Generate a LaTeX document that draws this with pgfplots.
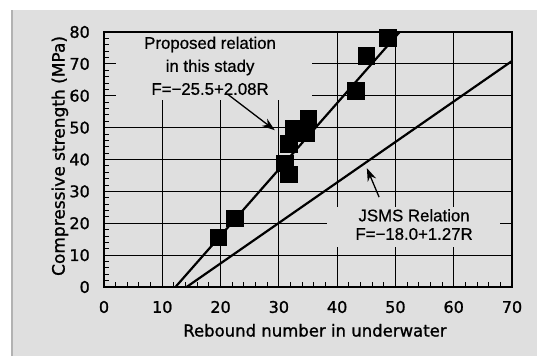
\documentclass[border=0pt]{standalone}
\usepackage{pgfplots}
\pgfplotsset{compat=1.18}
\usetikzlibrary{arrows.meta}
\usepackage{fontspec}
\setmainfont{DejaVu Sans}
\newfontfamily\heavy{DejaVu Sans}[FakeBold=1.2]
\newfontfamily\annfont{Liberation Sans}[FakeBold=0.7]
\definecolor{bg}{RGB}{223,223,223}
\begin{document}
\begin{tikzpicture}
\useasboundingbox (-104pt,-69pt) rectangle (433pt,287pt);
\fill[white] (-104pt,-69pt) rectangle (433pt,287pt);
\fill[bg] (-92pt,-69pt) rectangle (433pt,277pt);
\draw[gray!60, line width=1.2pt] (-92pt,-69pt) -- (-92pt,277pt);
\begin{axis}[
  scale only axis, width=408pt, height=255pt,
  xmin=0, xmax=70, ymin=0, ymax=80,
  xtick={0,10,...,70}, ytick={0,10,...,80},
  minor x tick num=4, minor y tick num=4,
  xtick pos=left, ytick pos=left,
  tick align=inside,
  major tick length=12pt, minor tick length=5pt,
  grid=major,
  major grid style={black, line width=1.2pt},
  axis line style={black, line width=1.6pt},
  every tick/.style={black, line width=1pt},
  /pgf/number format/assume math mode=true,
  xticklabel style={font=\heavy\fontsize{16}{19}\selectfont, anchor=center, yshift=-20pt},
  yticklabel style={font=\heavy\fontsize{16}{19}\selectfont, anchor=east, inner sep=0pt, xshift=-14pt},
  xlabel={Rebound number in underwater},
  xlabel style={at={(axis description cs:0.517,-0.17)}, anchor=center, font=\heavy\fontsize{16.5}{19}\selectfont},
  ylabel={Compressive strength (MPa)},
  ylabel style={at={(axis description cs:-0.108,0.514)}, anchor=center, font=\heavy\fontsize{17}{20}\selectfont},
]
\fill[bg] (axis cs:2.1,58.6) rectangle (axis cs:35.6,79.6);
\fill[bg] (axis cs:38.2,12.5) rectangle (axis cs:67.9,25);
\addplot[black, line width=2.2pt] coordinates {(12.26,0) (50.72,80)};
\addplot[black, line width=2.2pt] coordinates {(14.17,0) (70,70.9)};
\addplot[only marks, mark=square*, mark size=8.3pt, black] coordinates {
  (19.6,15.6) (22.4,21.6) (31.0,38.8) (31.7,35.4) (31.7,45.0)
  (32.5,49.7) (34.6,48.2) (35.0,53.0) (43.2,61.5) (45.0,72.5) (48.7,78.3)};
\draw[black, line width=1.3pt, -{Stealth[length=13pt,width=9pt]}] (axis cs:21.2,60.5) -- (axis cs:29.3,49.2);
\draw[black, line width=1.3pt, -{Stealth[length=13pt,width=9pt]}] (axis cs:47.2,28.2) -- (axis cs:45.1,37.3);
\node[align=center, inner sep=0pt, font=\annfont\fontsize{16.8}{23}\selectfont] at (axis cs:18.2,69.4)
  {Proposed relation\\in this stady\\F=−25.5+2.08R};
\node[align=center, inner sep=0pt, font=\annfont\fontsize{16.8}{18.5}\selectfont] at (axis cs:53.2,19.6)
  {JSMS Relation\\F=−18.0+1.27R};
\end{axis}
\end{tikzpicture}
\end{document}
